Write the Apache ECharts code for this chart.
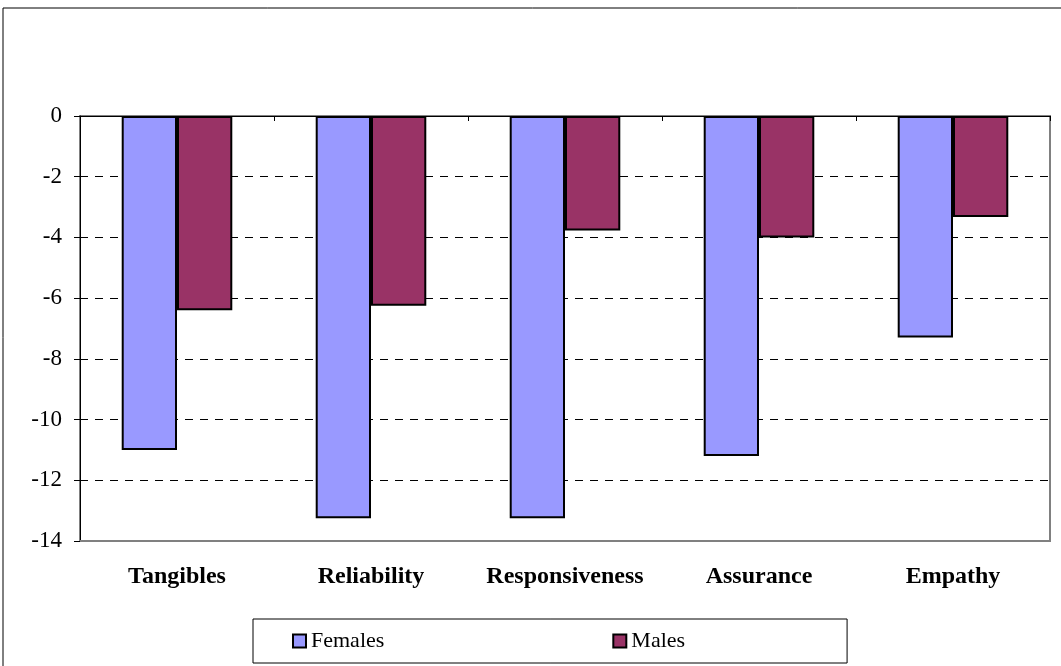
<!DOCTYPE html>
<html>
<head>
<meta charset="utf-8">
<script src="https://cdn.jsdelivr.net/npm/echarts@6/dist/echarts.min.js"></script>
<style>
  html, body { margin: 0; padding: 0; background: #fff; }
  #chart { width: 1061px; height: 666px; }
</style>
</head>
<body>
<div id="chart"></div>
<script>
// values
const categories = ['Tangibles', 'Reliability', 'Responsiveness', 'Assurance', 'Empathy'];
const females = [-11.0, -13.25, -13.25, -11.2, -7.3];
const males = [-6.4, -6.25, -3.77, -4.0, -3.33];
const seriesNames = ['Females', 'Males'];

const font = '"Liberation Serif", "Times New Roman", serif';

const chart = echarts.init(document.getElementById('chart'));

chart.setOption({
  animation: false,
  textStyle: { fontFamily: font },
  // outer frame of the chart
  graphic: [{
    type: 'rect',
    shape: { x: 3, y: 8, width: 1070, height: 670 },
    style: { fill: 'none', stroke: '#000', lineWidth: 1 },
    silent: true
  }],
  grid: {
    left: 80,
    right: 11,
    top: 116,
    bottom: 125,
    show: true,
    borderColor: '#808080',
    borderWidth: 2
  },
  legend: {
    data: seriesNames,
    icon: 'rect',
    left: 253,
    top: 619,
    padding: [11, 162, 11, 39],
    itemGap: 228,
    itemWidth: 13,
    itemHeight: 13,
    itemStyle: { borderColor: '#000', borderWidth: 2 },
    borderColor: '#000',
    borderWidth: 1,
    textStyle: { fontFamily: font, fontSize: 22, color: '#000' }
  },
  xAxis: [{
    // bottom axis carries the labels
    type: 'category',
    data: categories,
    position: 'bottom',
    axisLine: { onZero: false, lineStyle: { color: '#808080', width: 2 } },
    axisTick: { show: false },
    axisLabel: {
      interval: 0,
      margin: 24,
      fontFamily: font,
      fontSize: 24,
      fontWeight: 'bold',
      color: '#000'
    }
  }, {
    // zero line with the category ticks
    type: 'category',
    data: categories,
    position: 'top',
    axisLine: { lineStyle: { color: '#000', width: 1 } },
    axisTick: { show: true, inside: true, length: 5, lineStyle: { color: '#000' } },
    axisLabel: { show: false }
  }],
  yAxis: {
    type: 'value',
    min: -14,
    max: 0,
    interval: 2,
    axisLine: { show: true, lineStyle: { color: '#000', width: 1 } },
    axisTick: { show: true, length: 6, lineStyle: { color: '#000' } },
    axisLabel: {
      margin: 18,
      fontFamily: font,
      fontSize: 23,
      color: '#000'
    },
    splitLine: {
      show: true,
      lineStyle: { color: '#000', type: [8, 7], width: 1 }
    }
  },
  series: [{
    name: seriesNames[0],
    type: 'bar',
    data: females,
    barGap: '0%',
    barCategoryGap: '43%',
    itemStyle: { color: '#9999FF', borderColor: '#000', borderWidth: 2 }
  }, {
    name: seriesNames[1],
    type: 'bar',
    data: males,
    itemStyle: { color: '#993366', borderColor: '#000', borderWidth: 2 }
  }]
});
</script>
</body>
</html>
